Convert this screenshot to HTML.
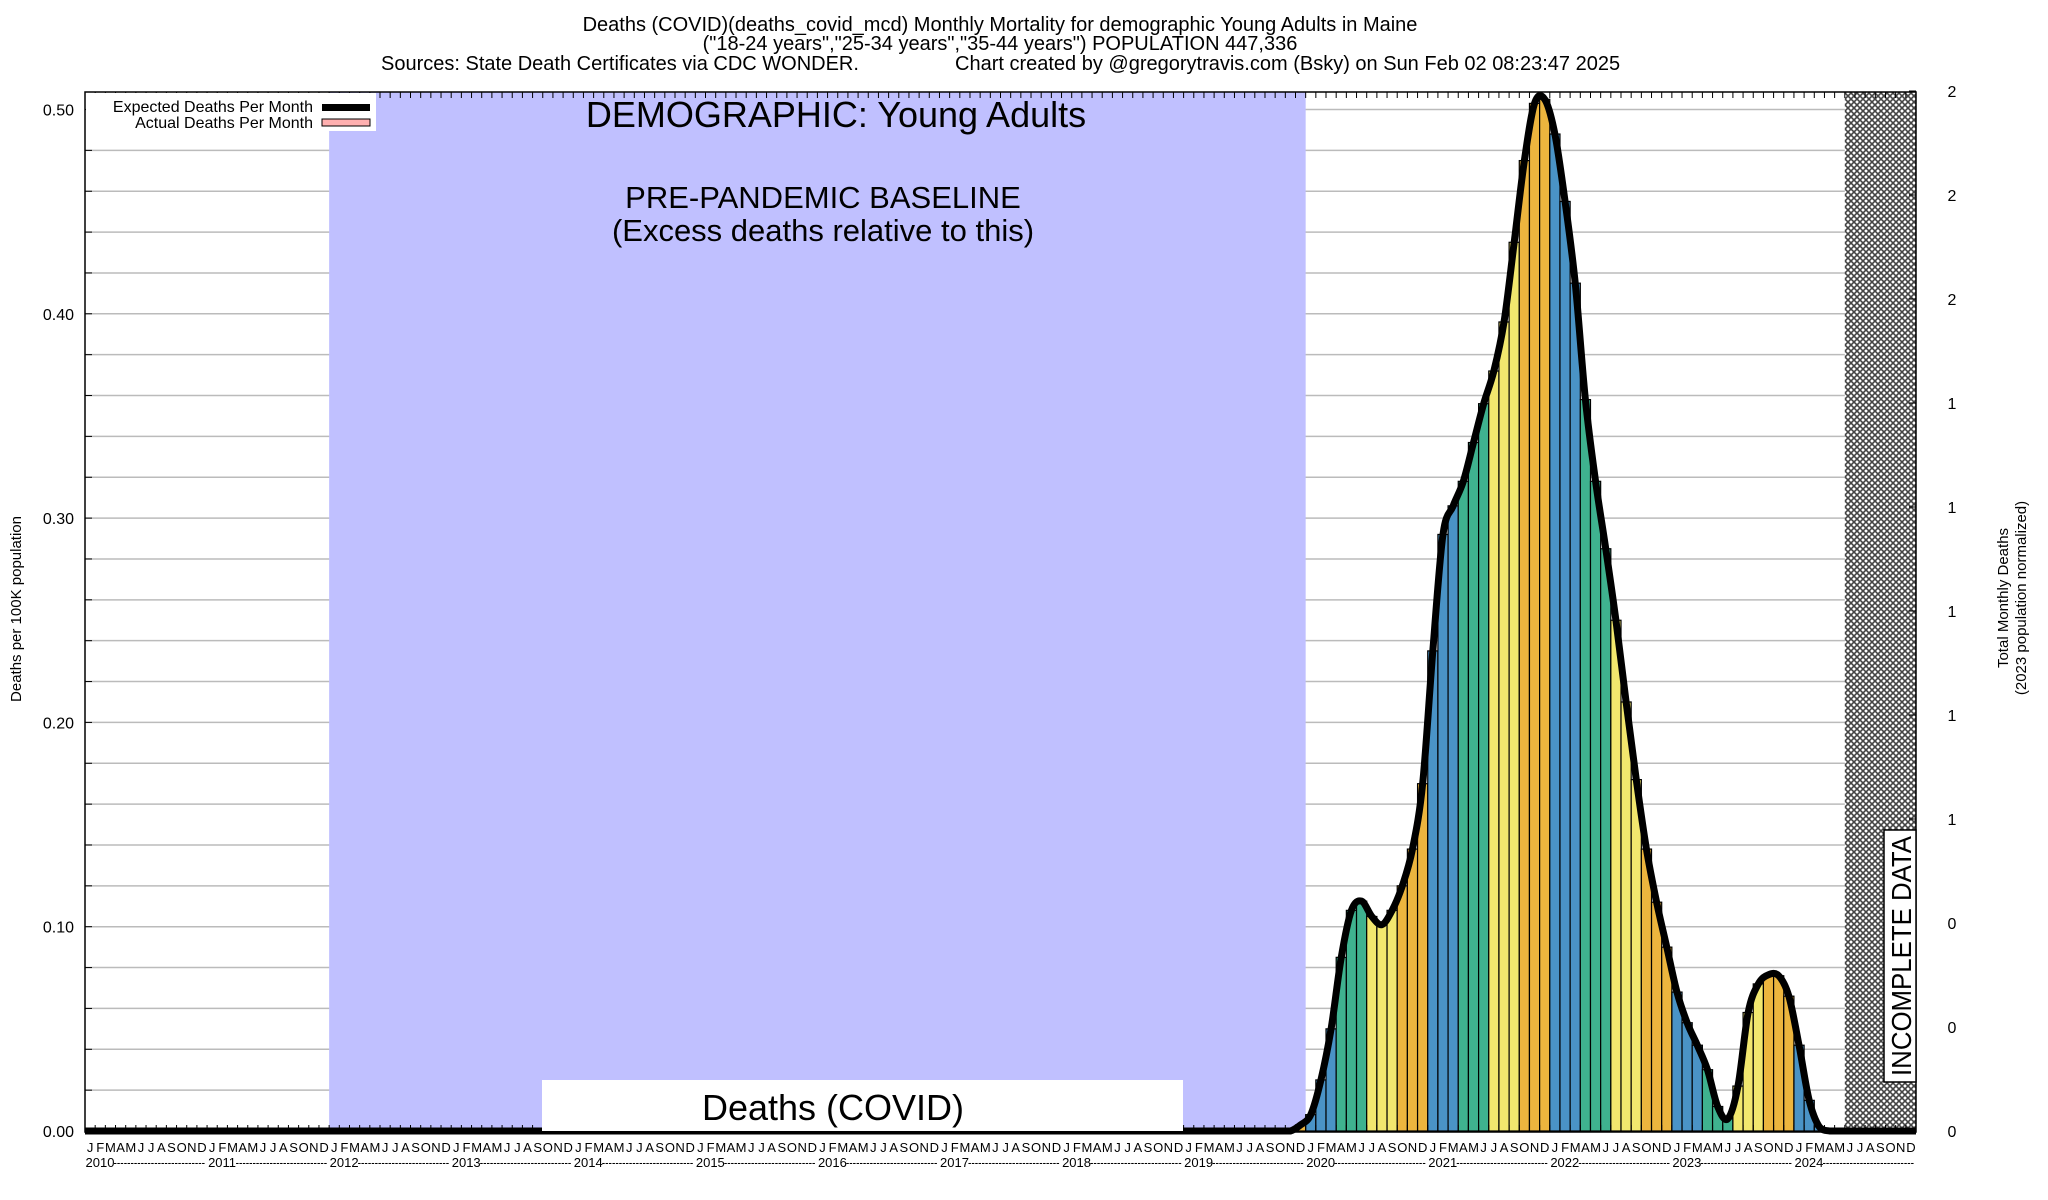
<!DOCTYPE html>
<html><head><meta charset="utf-8"><style>
html,body{margin:0;padding:0;background:#fff;}
svg{display:block;font-family:"Liberation Sans",sans-serif;}
</style></head><body>
<svg id="chart" width="2048" height="1200" viewBox="0 0 2048 1200">
<defs>
<pattern id="hatch" width="6" height="6" patternUnits="userSpaceOnUse">
<rect width="6" height="6" fill="#fff"/>
<path d="M0,0 L6,6 M6,0 L0,6" stroke="#444" stroke-width="1.6"/>
</pattern>
</defs>
<g font-size="20" text-anchor="middle">
<text x="1000" y="31">Deaths (COVID)(deaths_covid_mcd) Monthly Mortality for demographic Young Adults in Maine</text>
<text x="1000" y="50">("18-24 years","25-34 years","35-44 years") POPULATION 447,336</text>
<text x="381" y="70" text-anchor="start">Sources: State Death Certificates via CDC WONDER.</text>
<text x="955" y="70" text-anchor="start">Chart created by @gregorytravis.com (Bsky) on Sun Feb 02 08:23:47 2025</text>
</g>
<g id="grid"></g>
<rect id="baseline" fill="#c0c0ff"/>
<rect id="hatchrect" fill="url(#hatch)"/>
<g id="bars"></g>
<path id="line" fill="none" stroke="#000" stroke-width="7" stroke-linejoin="round"/>
<g id="ticks"></g>
<rect x="85" y="92" width="1831" height="1040" fill="none" stroke="#000" stroke-width="1.5"/>
<g>
<rect x="86" y="93" width="290" height="38" fill="#fff"/>
<text x="313" y="112" font-size="16" text-anchor="end">Expected Deaths Per Month</text>
<rect x="322" y="104" width="48" height="7" fill="#000"/>
<text x="313" y="128" font-size="16" text-anchor="end">Actual Deaths Per Month</text>
<rect x="322" y="119" width="48" height="7" fill="#ffb0b0" stroke="#000" stroke-width="1"/>
</g>
<text x="836" y="127" font-size="36" text-anchor="middle">DEMOGRAPHIC: Young Adults</text>
<text x="823" y="208" font-size="31" text-anchor="middle">PRE-PANDEMIC BASELINE</text>
<text x="823" y="241" font-size="31" text-anchor="middle">(Excess deaths relative to this)</text>
<g>
<rect x="542" y="1080" width="641" height="51" fill="#fff"/>
<text x="833" y="1120" font-size="36" text-anchor="middle">Deaths (COVID)</text>
</g>
<g transform="translate(1900,956) rotate(-90)">
<rect x="-126" y="-16" width="252" height="32" fill="#fff" stroke="#000" stroke-width="1.5"/>
<text x="0" y="11" font-size="28" text-anchor="middle" textLength="240" lengthAdjust="spacingAndGlyphs">INCOMPLETE DATA</text>
</g>
<g id="ylabels" font-size="16" text-anchor="end"></g>
<g id="rlabels" font-size="16" text-anchor="middle"></g>
<g id="xlabels" font-size="13" text-anchor="middle"></g>
<text transform="translate(21,609) rotate(-90)" font-size="15" text-anchor="middle">Deaths per 100K population</text>
<text transform="translate(2008,598) rotate(-90)" font-size="15" text-anchor="middle">Total Monthly Deaths</text>
<text transform="translate(2026,598) rotate(-90)" font-size="15" text-anchor="middle">(2023 population normalized)</text>
</svg>
<script>
const startYear = 2010;
const monthLetters = ["J","F","M","A","M","J","J","A","S","O","N","D"];
const yTicks = [0.00, 0.10, 0.20, 0.30, 0.40, 0.50];
const rightTickLabels = ["0","0","0","1","1","1","1","1","2","2","2"];
// monthly values (deaths per 100K) starting Dec 2019 (index 119); earlier months are 0
const covidValues = [0.003,0.008,0.025,0.05,0.085,0.108,0.1125,0.105,0.101,0.108,0.120,0.138,0.170,
0.235,0.292,0.306,0.318,0.337,0.356,0.372,0.396,0.435,0.475,0.503,0.505,
0.488,0.455,0.415,0.358,0.318,0.285,0.250,0.210,0.172,0.138,0.112,0.090,
0.068,0.053,0.042,0.030,0.012,0.006,0.022,0.058,0.072,0.0765,0.076,0.066,
0.042,0.015,0.002,0,0];
const valuesStartIndex = 119;
const nMonths = 180;
const baselineStart = 24, baselineEnd = 120, incompleteStart = 173;

const NS = "http://www.w3.org/2000/svg";
const X0 = 85, X1 = 1916, Y0 = 1131, YTOP = 92;
const mw = (X1 - X0) / nMonths;
const xs = i => X0 + i * mw;
const ys = v => Y0 - v * 2043;
function mk(tag, attrs, parent) { const e = document.createElementNS(NS, tag); for (const k in attrs) e.setAttribute(k, attrs[k]); parent.appendChild(e); return e; }

const vals = [];
for (let i = 0; i < nMonths; i++) { const j = i - valuesStartIndex; vals.push(j >= 0 && j < covidValues.length ? covidValues[j] : 0); }

const grid = document.getElementById("grid");
for (let k = 1; k <= 25; k++) {
  const y = ys(k * 0.02);
  const l = mk("line", {x1: X0, x2: X1, y1: y, y2: y, stroke: "#bbb", "stroke-width": 1.5}, grid);
  
  
}
const br = document.getElementById("baseline");
br.setAttribute("x", xs(baselineStart)); br.setAttribute("width", xs(baselineEnd) - xs(baselineStart));
br.setAttribute("y", YTOP); br.setAttribute("height", Y0 - YTOP);
const hr = document.getElementById("hatchrect");
hr.setAttribute("x", xs(incompleteStart)); hr.setAttribute("width", X1 - xs(incompleteStart));
hr.setAttribute("y", YTOP); hr.setAttribute("height", Y0 - YTOP + 2);

const colors = ["#4a93c6", "#3fb28f", "#f2e76e", "#ecb53e"];
const bars = document.getElementById("bars");
for (let i = 0; i < nMonths; i++) {
  if (vals[i] <= 0) continue;
  const q = Math.floor((i % 12) / 3);
  const r = mk("rect", {x: xs(i), y: ys(vals[i]), width: mw, height: Y0 - ys(vals[i]), fill: colors[q], stroke: "#000", "stroke-width": 1.2}, bars);
  
  
}
const pts = vals.map((v, i) => [xs(i + 0.5), ys(v)]);
pts.unshift([X0, Y0]);
let d = "M" + pts[0][0] + "," + pts[0][1];
for (let i = 0; i < pts.length - 1; i++) {
  const p0 = pts[Math.max(0, i - 1)], p1 = pts[i], p2 = pts[i + 1], p3 = pts[Math.min(pts.length - 1, i + 2)];
  const c1 = [p1[0] + (p2[0] - p0[0]) / 6, p1[1] + (p2[1] - p0[1]) / 6];
  const c2 = [p2[0] - (p3[0] - p1[0]) / 6, p2[1] - (p3[1] - p1[1]) / 6];
  d += ` C${c1[0]},${Math.min(c1[1], Y0)} ${c2[0]},${Math.min(c2[1], Y0)} ${p2[0]},${p2[1]}`;
}
d += ` L${X1},${Y0}`;
document.getElementById("line").setAttribute("d", d);

const ticks = document.getElementById("ticks");
for (let i = 0; i <= nMonths; i++) {
  mk("line", {x1: xs(i), x2: xs(i), y1: YTOP, y2: YTOP + 6, stroke: "#000", "stroke-width": 1}, ticks);
  mk("line", {x1: xs(i), x2: xs(i), y1: Y0, y2: Y0 - 6, stroke: "#000", "stroke-width": 1}, ticks);
}
for (let k = 0; k <= 25; k++) {
  mk("line", {x1: X0, x2: X0 + 7, y1: ys(k * 0.02), y2: ys(k * 0.02), stroke: "#000", "stroke-width": 1}, ticks);
}
const yl = document.getElementById("ylabels");
yTicks.forEach(v => {
  const t = mk("text", {x: 74, y: ys(v) + 6}, yl); t.textContent = v.toFixed(2);
  
  
});
const rl = document.getElementById("rlabels");
rightTickLabels.forEach((s, k) => {
  const y = Y0 - k * 104;
  mk("line", {x1: X1, x2: X1 - 7, y1: y, y2: y, stroke: "#000", "stroke-width": 1}, ticks);
  const t = mk("text", {x: 1952, y: y + 6}, rl); t.textContent = s;
  
  
});
const xl = document.getElementById("xlabels");
for (let i = 0; i < nMonths; i++) {
  const cx = xs(i + 0.5);
  const t = mk("text", {x: cx, y: 1152}, xl); t.textContent = monthLetters[i % 12];
  
  
  if (i % 12 === 0) {
    const y = mk("text", {x: xs(i) + 15, y: 1167}, xl); y.textContent = String(startYear + i / 12);
    
    
  } else if (i % 12 >= 3) {
    const h = mk("text", {x: cx - 2, y: 1167, textLength: mw, lengthAdjust: "spacingAndGlyphs"}, xl); h.textContent = "---";
    
    
  }
}
</script>
</body></html>
